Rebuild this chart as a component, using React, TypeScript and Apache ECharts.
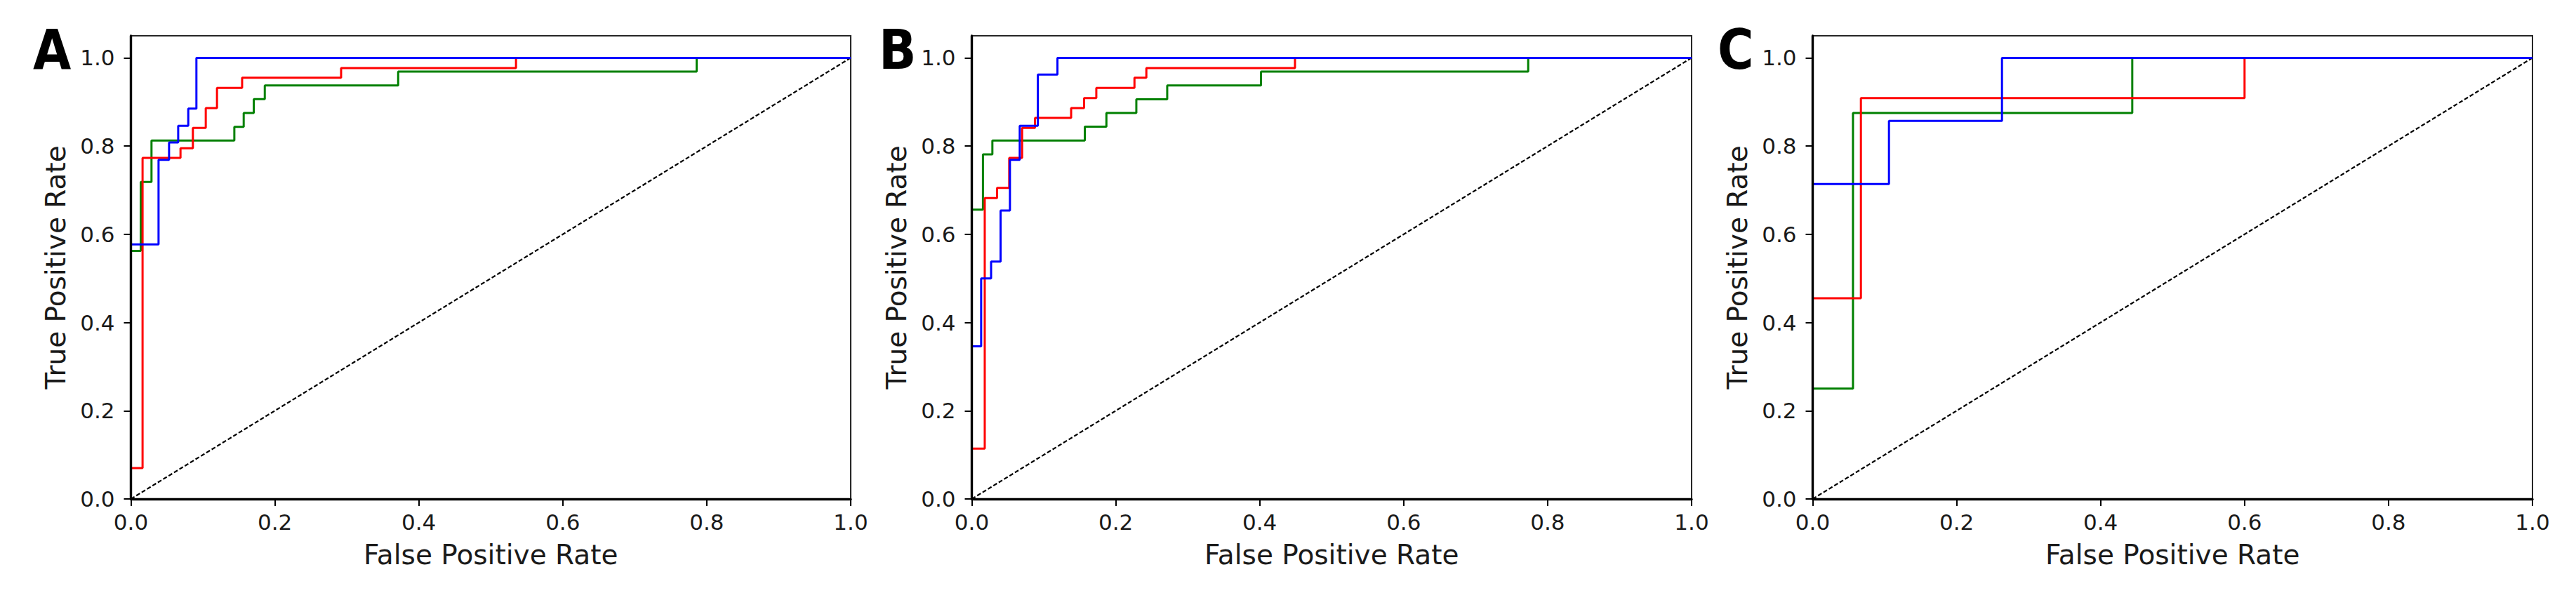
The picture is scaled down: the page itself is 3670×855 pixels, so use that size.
import React, { useEffect, useRef } from "react";
import * as echarts from "echarts";

// ---- tick labels ----
const xTicks = [0, 0.2, 0.4, 0.6, 0.8, 1.0];
const yTicks = [0, 0.2, 0.4, 0.6, 0.8, 1.0];
const panelLabels = ["A", "B", "C"];
const xLabel = "False Positive Rate";
const yLabel = "True Positive Rate";
const diagonalFpr = [0, 1];
const diagonalTpr = [0, 1];

// ---- Panel A (fpr where the curve rises, tpr after the rise) ----
const aGreenFpr = [0, 0, 0.0137, 0.0286, 0.1437, 0.1567, 0.1707, 0.186, 0.3713, 0.786, 1.0];
const aGreenTpr = [0, 0.5625, 0.71875, 0.8125, 0.84375, 0.875, 0.90625, 0.9375, 0.96875, 1.0, 1.0];
const aRedFpr = [0, 0, 0.0162, 0.0689, 0.0861, 0.104, 0.1196, 0.1545, 0.292, 0.535, 1.0];
const aRedTpr = [0, 0.07, 0.773, 0.795, 0.841, 0.886, 0.932, 0.955, 0.977, 1.0, 1.0];
const aBlueFpr = [0, 0, 0.0384, 0.053, 0.0657, 0.0797, 0.091, 1.0];
const aBlueTpr = [0, 0.577, 0.769, 0.808, 0.846, 0.885, 1.0, 1.0];

// ---- Panel B ----
const bGreenFpr = [0, 0, 0.0155, 0.0286, 0.157, 0.187, 0.2286, 0.2715, 0.4018, 0.773, 1.0];
const bGreenTpr = [0, 0.656, 0.781, 0.8125, 0.844, 0.875, 0.906, 0.9375, 0.969, 1.0, 1.0];
const bRedFpr = [0, 0, 0.018, 0.0351, 0.052, 0.0699, 0.0878, 0.138, 0.156, 0.173, 0.226, 0.2425, 0.449, 1.0];
const bRedTpr = [0, 0.114, 0.682, 0.705, 0.773, 0.841, 0.864, 0.886, 0.909, 0.932, 0.955, 0.977, 1.0, 1.0];
const bBlueFpr = [0, 0, 0.013, 0.0268, 0.04, 0.053, 0.0666, 0.0918, 0.119, 1.0];
const bBlueTpr = [0, 0.346, 0.5, 0.538, 0.654, 0.769, 0.846, 0.962, 1.0, 1.0];

// ---- Panel C ----
const cGreenFpr = [0, 0, 0.056, 0.444, 1.0];
const cGreenTpr = [0, 0.25, 0.875, 1.0, 1.0];
const cRedFpr = [0, 0, 0.067, 0.6, 1.0];
const cRedTpr = [0, 0.455, 0.909, 1.0, 1.0];
const cBlueFpr = [0, 0, 0.106, 0.263, 1.0];
const cBlueTpr = [0, 0.714, 0.857, 1.0, 1.0];

const panels = [
  { green: [aGreenFpr, aGreenTpr], red: [aRedFpr, aRedTpr], blue: [aBlueFpr, aBlueTpr] },
  { green: [bGreenFpr, bGreenTpr], red: [bRedFpr, bRedTpr], blue: [bBlueFpr, bBlueTpr] },
  { green: [cGreenFpr, cGreenTpr], red: [cRedFpr, cRedTpr], blue: [cBlueFpr, cBlueTpr] },
];

function stairs(fpr: number[], tpr: number[]): number[][] {
  const pts: number[][] = [];
  for (let i = 0; i < fpr.length; i++) {
    if (i > 0) pts.push([fpr[i], tpr[i - 1]]);
    pts.push([fpr[i], tpr[i]]);
  }
  return pts;
}

const W = 3670;
const H = 855;
const gridLefts = [186.5, 1384.5, 2582.5];
const gridWidth = 1025.5;
const gridTop = 51;
const gridHeight = 660;
const letterX = [47, 1252, 2447];
const FONT = "'DejaVu Sans', sans-serif";

export default function App() {
  const ref = useRef<HTMLDivElement>(null);
  useEffect(() => {
    document.body.style.margin = "0";
    const chart = echarts.init(ref.current!, null, { renderer: "svg" });
    const grid: any[] = [];
    const xAxis: any[] = [];
    const yAxis: any[] = [];
    const series: any[] = [];
    panels.forEach((p, i) => {
      grid.push({
        left: gridLefts[i],
        top: gridTop,
        width: gridWidth,
        height: gridHeight,
        show: true,
        borderColor: "#262626",
        borderWidth: 2,
        backgroundColor: "#ffffff",
      });
      const common = {
        gridIndex: i,
        type: "value",
        z: 20,
        splitLine: { show: false },
        axisLine: { show: true, onZero: false, lineStyle: { color: "#000", width: 3.4 } },
        axisTick: { show: true, inside: false, length: 10, lineStyle: { color: "#000", width: 2 } },
        nameTextStyle: { fontFamily: FONT, fontSize: 39, color: "#1a1a1a" },
      };
      xAxis.push({
        ...common,
        min: 0,
        max: 1,
        interval: 0.2,
        name: xLabel,
        nameLocation: "middle",
        nameGap: 60,
        axisTick: { ...common.axisTick, customValues: xTicks },
        axisLabel: {
          customValues: xTicks,
          fontFamily: FONT,
          fontSize: 31,
          color: "#1a1a1a",
          margin: 17,
          formatter: (v: number) => v.toFixed(1),
        },
      });
      yAxis.push({
        ...common,
        min: 0,
        max: 1.05,
        name: yLabel,
        nameLocation: "middle",
        nameGap: 88,
        axisTick: { ...common.axisTick, customValues: yTicks },
        axisLabel: {
          customValues: yTicks,
          fontFamily: FONT,
          fontSize: 31,
          color: "#1a1a1a",
          margin: 23,
          formatter: (v: number) => v.toFixed(1),
        },
      });
      series.push({
        type: "line",
        xAxisIndex: i,
        yAxisIndex: i,
        data: diagonalFpr.map((x, k) => [x, diagonalTpr[k]]),
        symbol: "none",
        lineStyle: { color: "#000", width: 2.2, type: [6, 3] },
        z: 2,
      });
      const order: [string, string][] = [
        ["green", "#008000"],
        ["red", "#ff0000"],
        ["blue", "#0000ff"],
      ];
      order.forEach(([k, color], j) => {
        const [f, t] = (p as any)[k];
        series.push({
          type: "line",
          xAxisIndex: i,
          yAxisIndex: i,
          data: stairs(f, t),
          symbol: "none",
          lineStyle: { color, width: 3 },
          z: 3 + j,
        });
      });
    });
    const graphic = panelLabels.map((l, i) => ({
      type: "text",
      x: letterX[i],
      y: 71,
      scaleX: 0.9,
      style: {
        text: l,
        fontFamily: FONT,
        fontWeight: "bold",
        fontSize: 78,
        fill: "#000",
        align: "left",
        verticalAlign: "middle",
      },
    }));
    chart.setOption({
      animation: false,
      backgroundColor: "#ffffff",
      grid,
      xAxis,
      yAxis,
      series,
      graphic,
    });
    return () => chart.dispose();
  }, []);
  return <div ref={ref} style={{ width: W, height: H }} />;
}
